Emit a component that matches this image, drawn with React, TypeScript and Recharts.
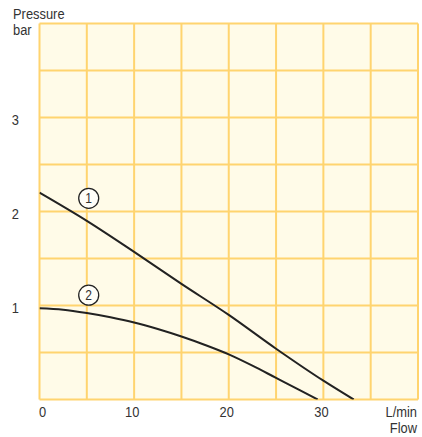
import React from 'react';
import { LineChart, Line, XAxis, YAxis, CartesianGrid, ReferenceDot } from 'recharts';

const curve1 = [
  { x: 0, p: 2.2 },
  { x: 5, p: 1.9 },
  { x: 10, p: 1.57 },
  { x: 15, p: 1.23 },
  { x: 20, p: 0.9 },
  { x: 25, p: 0.54 },
  { x: 30, p: 0.2 },
  { x: 33.2, p: 0 },
];

const curve2 = [
  { x: 0, p: 0.97 },
  { x: 2.5, p: 0.955 },
  { x: 5, p: 0.92 },
  { x: 7.5, p: 0.875 },
  { x: 10, p: 0.82 },
  { x: 12.5, p: 0.75 },
  { x: 15, p: 0.67 },
  { x: 17.5, p: 0.58 },
  { x: 20, p: 0.48 },
  { x: 22.5, p: 0.36 },
  { x: 25, p: 0.23 },
  { x: 27.5, p: 0.1 },
  { x: 29.4, p: 0 },
];

const xTicks = [0, 5, 10, 15, 20, 25, 30, 35, 40];
const xTickLabels: Record<number, string> = { 0: '0', 10: '10', 20: '20', 30: '30', 40: 'L/min' };
const xAxisName = 'Flow';

const yTicks = [0, 0.5, 1, 1.5, 2, 2.5, 3, 3.5, 4];
const yTickLabels: Record<number, string> = { 1: '1', 2: '2', 3: '3' };
const yAxisName = ['Pressure', 'bar'];

const markers = [
  { x: 5.2, y: 2.14, label: '1' },
  { x: 5.2, y: 1.11, label: '2' },
];

const FONT = '"Liberation Sans", Arial, sans-serif';
const TEXT = '#333333';
const GRID = '#FFD46F';
const BG = '#FFFBE8';
const LINE = '#222222';
const SX = 0.86;

const T = ({ x, y, anchor, size = 15, children }: any) => (
  <g transform={`translate(${x},${y}) scale(${SX},1)`}>
    <text x={0} y={0} textAnchor={anchor} fontSize={size} fontFamily={FONT} fill={TEXT}>{children}</text>
  </g>
);

const XTick = (props: any) => {
  const { x, y, payload } = props;
  const v = payload.value;
  const label = xTickLabels[v];
  if (!label) return null;
  if (v === 40) {
    return (
      <g>
        <T x={x - 1} y={y + 17.5} anchor="end">{label}</T>
        <T x={x - 1} y={y + 33} anchor="end">{xAxisName}</T>
      </g>
    );
  }
  return <T x={v === 0 ? x + 3 : x - 2} y={y + 17.5} anchor="middle">{label}</T>;
};

const YTick = (props: any) => {
  const { x, y, payload } = props;
  const v = payload.value;
  if (v === 4) {
    return (
      <g>
        <T x={13} y={y - 5} anchor="start">{yAxisName[0]}</T>
        <T x={13} y={y + 11.5} anchor="start">{yAxisName[1]}</T>
      </g>
    );
  }
  const label = yTickLabels[v];
  if (!label) return null;
  return <T x={x - 20.5} y={y + 7} anchor="end">{label}</T>;
};

const Marker = (props: any) => {
  const { cx, cy, label } = props;
  return (
    <g>
      <circle cx={cx} cy={cy} r={10} fill="#FFFEF8" stroke={LINE} strokeWidth={1.3} />
      <T x={cx} y={cy + 5} anchor="middle" size={14}>{label}</T>
    </g>
  );
};

export default function App() {
  return (
    <div style={{ position: 'absolute', left: 0, top: 0, width: 422, height: 437 }}>
      <LineChart width={422} height={437} margin={{ top: 23.5, right: 4, bottom: 0, left: 0 }}>
        <CartesianGrid stroke={GRID} strokeWidth={2} fill={BG} fillOpacity={1} />
        <XAxis
          type="number"
          dataKey="x"
          domain={[0, 40]}
          ticks={xTicks}
          interval={0}
          height={37.5}
          axisLine={false}
          tickLine={false}
          tickSize={0}
          tickMargin={0}
          tick={<XTick />}
          allowDataOverflow
        />
        <YAxis
          type="number"
          dataKey="p"
          domain={[0, 4]}
          ticks={yTicks}
          interval={0}
          width={39.5}
          axisLine={false}
          tickLine={false}
          tickSize={0}
          tickMargin={0}
          tick={<YTick />}
          allowDataOverflow
        />
        <Line data={curve1} dataKey="p" type="monotone" stroke={LINE} strokeWidth={2} dot={false} isAnimationActive={false} />
        <Line data={curve2} dataKey="p" type="monotone" stroke={LINE} strokeWidth={2} dot={false} isAnimationActive={false} />
        {markers.map((m) => (
          <ReferenceDot key={m.label} x={m.x} y={m.y} r={10} shape={(p: any) => <Marker {...p} label={m.label} />} />
        ))}
      </LineChart>
    </div>
  );
}
